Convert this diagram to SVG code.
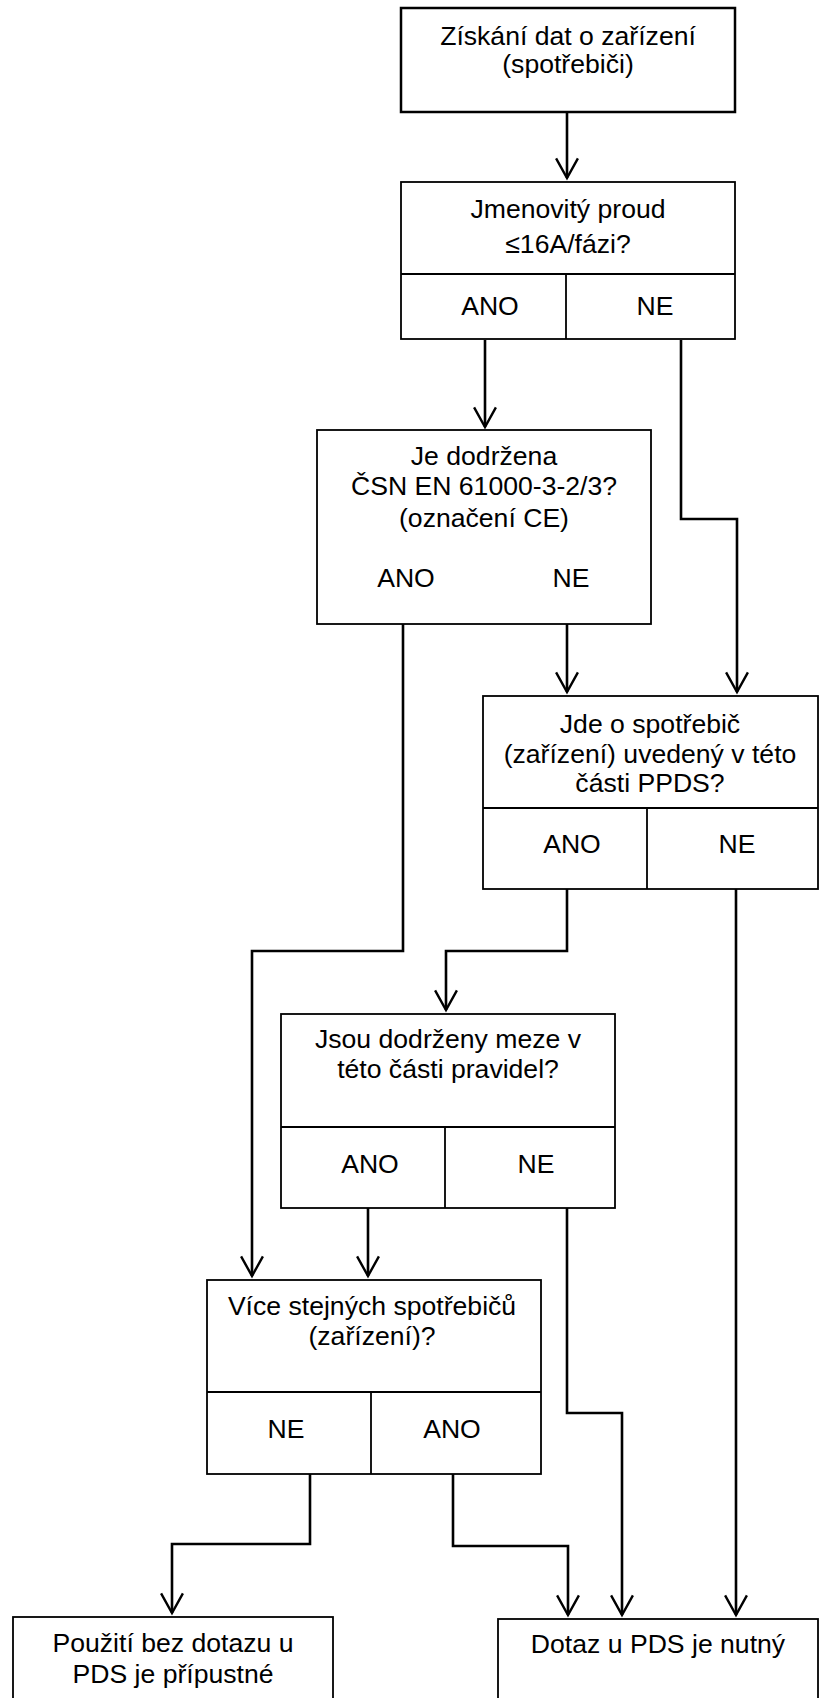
<svg xmlns="http://www.w3.org/2000/svg" width="821" height="1698" viewBox="0 0 821 1698">
<style>
.box{fill:#fff;stroke:#000;stroke-width:1.8}
.div{fill:none;stroke:#000;stroke-width:1.8}
.t{font-family:"Liberation Sans",Arial,sans-serif;font-size:26.6px;fill:#000;text-anchor:middle}
.c{fill:none;stroke:#000;stroke-width:2.6;stroke-linejoin:miter}
.ah{fill:none;stroke:#000;stroke-width:2.2}
</style>
<defs>
<marker id="arr" markerUnits="userSpaceOnUse" markerWidth="26" markerHeight="24" refX="11" refY="19" orient="0" viewBox="0 0 22 22">
<path class="ah" d="M1,1 L11,19 L21,1"/>
</marker>
</defs>
<rect width="821" height="1698" fill="#fff"/>
<g id="n1">
<rect class="box" x="401" y="8" width="334" height="104" style="stroke-width:2.5"/>
<text class="t" x="568" y="45">Získání dat o zařízení</text>
<text class="t" x="568" y="73">(spotřebiči)</text>
</g>
<g id="n2">
<rect class="box" x="401" y="182" width="334" height="157"/>
<path class="div" d="M401,274 H735 M566,274 V339"/>
<text class="t" x="568" y="218">Jmenovitý proud</text>
<text class="t" x="568" y="253">≤16A/fázi?</text>
<text class="t" x="490" y="315">ANO</text>
<text class="t" x="655" y="315">NE</text>
</g>
<g id="n3">
<rect class="box" x="317" y="430" width="334" height="194"/>
<text class="t" x="484" y="465">Je dodržena</text>
<text class="t" x="484" y="495">ČSN EN 61000-3-2/3?</text>
<text class="t" x="484" y="527">(označení CE)</text>
<text class="t" x="406" y="587">ANO</text>
<text class="t" x="571" y="587">NE</text>
</g>
<g id="n4">
<rect class="box" x="483" y="696" width="335" height="193"/>
<path class="div" d="M483,808 H818 M647,808 V889"/>
<text class="t" x="650" y="733">Jde o spotřebič</text>
<text class="t" x="650" y="763">(zařízení) uvedený v této</text>
<text class="t" x="650" y="792">části PPDS?</text>
<text class="t" x="572" y="853">ANO</text>
<text class="t" x="737" y="853">NE</text>
</g>
<g id="n5">
<rect class="box" x="281" y="1014" width="334" height="194"/>
<path class="div" d="M281,1127 H615 M445,1127 V1208"/>
<text class="t" x="448" y="1048">Jsou dodrženy meze v</text>
<text class="t" x="448" y="1078">této části pravidel?</text>
<text class="t" x="370" y="1173">ANO</text>
<text class="t" x="536" y="1173">NE</text>
</g>
<g id="n6">
<rect class="box" x="207" y="1280" width="334" height="194"/>
<path class="div" d="M207,1392 H541 M371,1392 V1474"/>
<text class="t" x="372" y="1315">Více stejných spotřebičů</text>
<text class="t" x="372" y="1345">(zařízení)?</text>
<text class="t" x="286" y="1438">NE</text>
<text class="t" x="452" y="1438">ANO</text>
</g>
<g id="n7">
<rect class="box" x="13" y="1617" width="320" height="100"/>
<text class="t" x="173" y="1652">Použití bez dotazu u</text>
<text class="t" x="173" y="1683">PDS je přípustné</text>
</g>
<g id="n8">
<rect class="box" x="498" y="1619" width="320" height="100"/>
<text class="t" x="658" y="1653">Dotaz u PDS je nutný</text>
</g>
<g id="connectors">
<path class="c" marker-end="url(#arr)" d="M567,112 V178"/>
<path class="c" marker-end="url(#arr)" d="M485,340 V427"/>
<path class="c" marker-end="url(#arr)" d="M681,340 V519 H737 V692"/>
<path class="c" marker-end="url(#arr)" d="M567,624 V692"/>
<path class="c" marker-end="url(#arr)" d="M403,624 V951 H252 V1276"/>
<path class="c" marker-end="url(#arr)" d="M567,889 V951 H446 V1010"/>
<path class="c" marker-end="url(#arr)" d="M736,889 V1615"/>
<path class="c" marker-end="url(#arr)" d="M368,1208 V1276"/>
<path class="c" marker-end="url(#arr)" d="M567,1208 V1413 H622 V1615"/>
<path class="c" marker-end="url(#arr)" d="M310,1474 V1544 H172 V1613"/>
<path class="c" marker-end="url(#arr)" d="M453,1474 V1546 H568 V1615"/>
</g>
</svg>
